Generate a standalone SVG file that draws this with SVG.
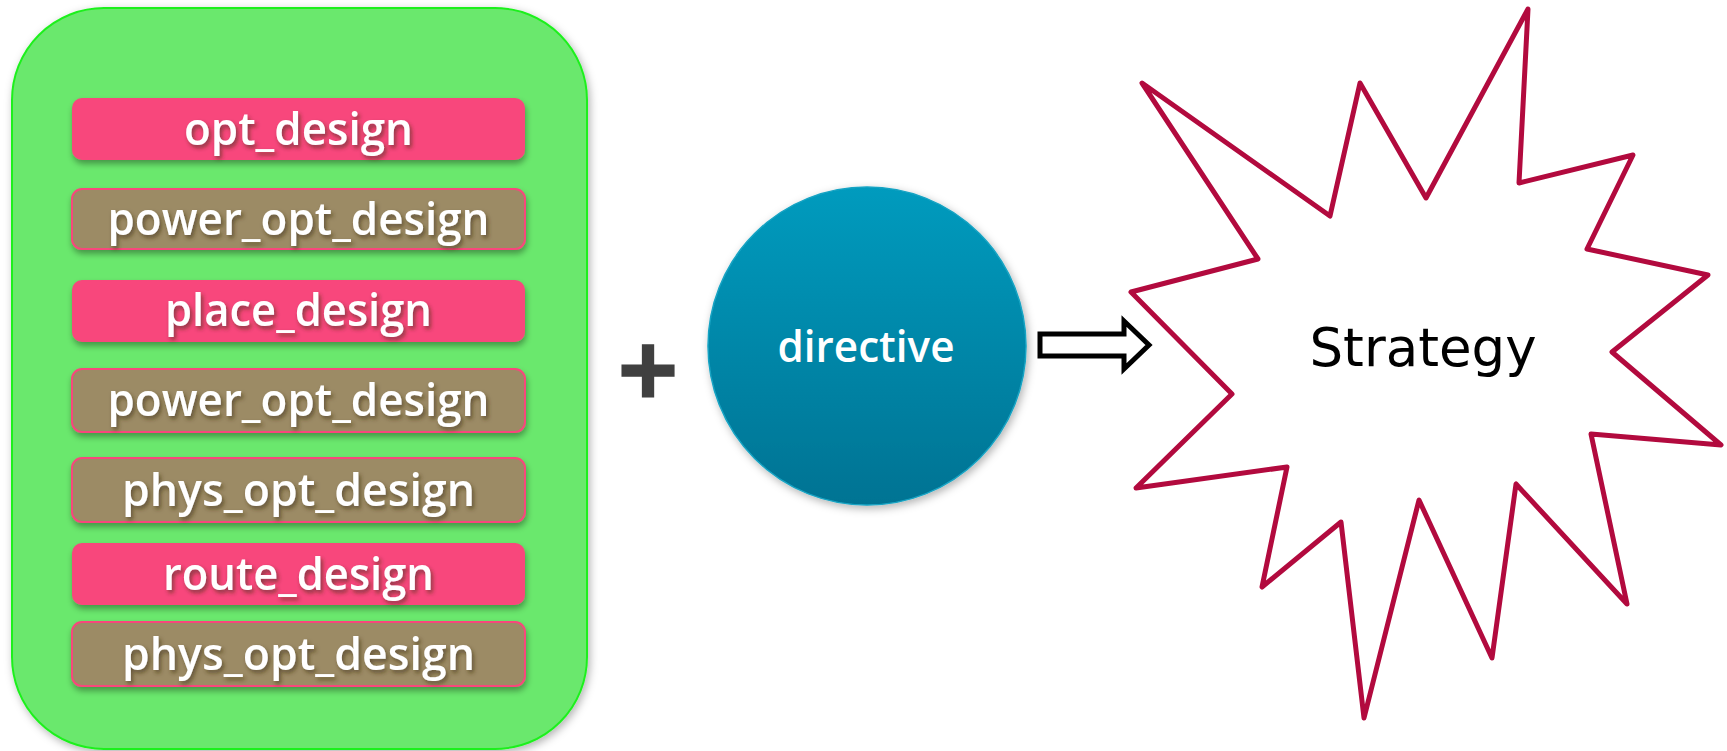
<svg xmlns="http://www.w3.org/2000/svg" width="1727" height="751" viewBox="0 0 1727 751">
<style>
.lbl{font-family:"Open Sans","Noto Sans",sans-serif;font-weight:600;font-size:46px;fill:#ffffff;text-anchor:middle;filter:url(#tsh)}
.pink{fill:#F8477B;filter:url(#bsh)}
.tan{fill:#9C8B65;stroke:#F8477B;stroke-width:2;filter:url(#bsh)}
</style>
<defs>
<filter id="bsh" x="-10%" y="-30%" width="120%" height="170%"><feDropShadow dx="1" dy="4" stdDeviation="3" flood-color="#000" flood-opacity="0.35"/></filter>
<filter id="tsh" x="-10%" y="-30%" width="120%" height="170%"><feDropShadow dx="2" dy="3" stdDeviation="2" flood-color="#3a2a10" flood-opacity="0.6"/></filter>
<filter id="gsh" x="-5%" y="-5%" width="110%" height="110%"><feDropShadow dx="2" dy="3" stdDeviation="4" flood-color="#000" flood-opacity="0.3"/></filter>
<linearGradient id="cg" x1="0" y1="0" x2="0" y2="1"><stop offset="0" stop-color="#009BBE"/><stop offset="1" stop-color="#007393"/></linearGradient>
</defs>
<rect width="1727" height="751" fill="#ffffff"/>
<g id="stack">
<rect x="12" y="8" width="575" height="741" rx="92" fill="#6BE86D" stroke="#1EF01E" stroke-width="2" filter="url(#gsh)"/>
</g>
<g id="n1"><rect class="pink" x="72" y="98" width="453" height="62" rx="10"/><text class="lbl" x="298.5" y="145" textLength="229" lengthAdjust="spacingAndGlyphs">opt_design</text></g>
<g id="n2"><rect class="tan" x="72" y="189" width="453" height="60" rx="10"/><text class="lbl" x="298.5" y="235" textLength="382" lengthAdjust="spacingAndGlyphs">power_opt_design</text></g>
<g id="n3"><rect class="pink" x="72" y="280" width="453" height="62" rx="10"/><text class="lbl" x="298.5" y="326" textLength="267" lengthAdjust="spacingAndGlyphs">place_design</text></g>
<g id="n4"><rect class="tan" x="72" y="369" width="453" height="63" rx="10"/><text class="lbl" x="298.5" y="416" textLength="382" lengthAdjust="spacingAndGlyphs">power_opt_design</text></g>
<g id="n5"><rect class="tan" x="72" y="458" width="453" height="64" rx="10"/><text class="lbl" x="298.5" y="506" textLength="353" lengthAdjust="spacingAndGlyphs">phys_opt_design</text></g>
<g id="n6"><rect class="pink" x="72" y="543" width="453" height="62" rx="10"/><text class="lbl" x="298.5" y="590" textLength="271" lengthAdjust="spacingAndGlyphs">route_design</text></g>
<g id="n7"><rect class="tan" x="72" y="622" width="453" height="64" rx="10"/><text class="lbl" x="298.5" y="670" textLength="353" lengthAdjust="spacingAndGlyphs">phys_opt_design</text></g>
<g id="plus"><text x="648" y="396" font-family="DejaVu Sans,sans-serif" font-weight="700" font-size="80" fill="#404040" stroke="#404040" stroke-width="3" text-anchor="middle">+</text></g>
<g id="directive">
<circle cx="867" cy="346" r="159" fill="url(#cg)" stroke="#15A3C3" stroke-width="1.5" filter="url(#gsh)"/>
<text x="866" y="362" font-family="Open Sans,sans-serif" font-weight="600" font-size="44" fill="#ffffff" text-anchor="middle" textLength="177" lengthAdjust="spacingAndGlyphs">directive</text>
</g>
<g id="connectors">
<path d="M1040 334 H1124 V321 L1149 345 L1124 369 V356 H1040 Z" fill="#ffffff" stroke="#000" stroke-width="5" stroke-linejoin="miter"/>
</g>
<g id="strategy">
<polygon points="1142,83 1330,216 1360,83 1426,198 1528,9 1519,183 1633,155 1587,249 1708,275 1612,352 1721,445 1591,434 1627,604 1516,484 1492,658 1419,500 1364,718 1341,522 1262,587 1287,467 1136,488 1232,394 1131,292 1258,259" fill="#ffffff" stroke="#B20A3E" stroke-width="5" stroke-linejoin="round"/>
<text x="1423" y="366" font-family="DejaVu Sans,sans-serif" font-size="53" fill="#000" text-anchor="middle">Strategy</text>
</g>
</svg>
